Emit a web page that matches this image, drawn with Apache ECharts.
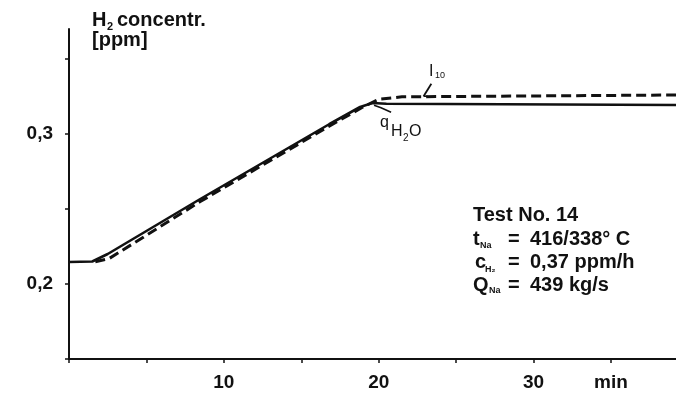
<!DOCTYPE html>
<html><head><meta charset="utf-8">
<script src="https://cdn.jsdelivr.net/npm/echarts@6/dist/echarts.min.js"></script>
<style>html,body{margin:0;padding:0;background:#fff}#c{width:676px;height:398px}</style>
</head><body><div id="c"></div>
<script>
// ---- data ----
const xTickLabels = {10: '10', 20: '20', 30: '30', 35: 'min'};
const yTickLabels = {20: '0,2', 30: '0,3'};
// q_H2O (solid)
const solidTime = [0, 1.5, 2.5, 8.45, 16.8, 18.8, 19.6, 20.5, 39.2];
const solidConc = [0.2147, 0.2150, 0.2200, 0.2565, 0.3065, 0.3180, 0.3207, 0.3202, 0.3193];
// I (dashed)
const dashTime = [1.7, 2.6, 8.45, 16.8, 18.9, 20.0, 21.5, 39.2];
const dashConc = [0.2148, 0.2170, 0.2548, 0.3052, 0.3175, 0.3232, 0.3248, 0.3260];

const FONT = '"Liberation Sans", Arial, sans-serif';
const chart = echarts.init(document.getElementById('c'), null, {renderer: 'canvas'});
const zip = (a, b) => a.map((v, i) => [v, b[i]]);

chart.setOption({
  animation: false,
  backgroundColor: '#fff',
  grid: {left: 69, right: 0, top: 29, bottom: 39},
  xAxis: {
    type: 'value', min: 0, max: 39.2, interval: 5,
    axisLine: {show: true, lineStyle: {color: '#111', width: 2}},
    axisTick: {show: true, length: 4, lineStyle: {color: '#111', width: 1.5}},
    splitLine: {show: false},
    axisLabel: {
      margin: 14, color: '#111', fontFamily: FONT, fontSize: 19, fontWeight: 'bold',
      showMaxLabel: false,
      formatter: v => xTickLabels[Math.round(v)] || ''
    }
  },
  yAxis: {
    type: 'value', min: 0.15, max: 0.37, interval: 0.05,
    axisLine: {show: true, lineStyle: {color: '#111', width: 2}},
    axisTick: {show: true, length: 4, lineStyle: {color: '#111', width: 1.5}},
    splitLine: {show: false},
    axisLabel: {
      margin: 16, color: '#111', fontFamily: FONT, fontSize: 19, fontWeight: 'bold',
      showMaxLabel: false,
      formatter: v => yTickLabels[Math.round(v * 100)] || ''
    }
  },
  series: [
    {type: 'line', data: zip(dashTime, dashConc), symbol: 'none', z: 3,
     lineStyle: {color: '#111', width: 3, type: [10, 5]}},
    {type: 'line', data: zip(solidTime, solidConc), symbol: 'none', z: 4,
     lineStyle: {color: '#111', width: 2.6}}
  ]
});

const P = (x, y) => chart.convertToPixel({gridIndex: 0}, [x, y]);
// text placed by baseline
const txt = (x, base, s, size, w) => ({
  type: 'text', x: x, y: base - Math.round(0.83 * size),
  style: {text: s, fill: '#111', font: (w || 'bold') + ' ' + size + 'px ' + FONT,
          align: 'left', verticalAlign: 'top'}
});
const line = (pts, w) => ({type: 'polyline', shape: {points: pts}, style: {stroke: '#111', lineWidth: w || 1.6, fill: null}});

const g = [];
// y-axis title
g.push(txt(92, 27, 'H', 20));
g.push(txt(107, 30, '2', 11));
g.push(txt(117, 27, 'concentr.', 20));
g.push(txt(92, 47, '[ppm]', 20));
// q_H2O label
g.push(txt(380, 128, 'q', 16, 'normal'));
g.push(txt(391, 137, 'H', 16, 'normal'));
g.push(txt(403, 141, '2', 10, 'normal'));
g.push(txt(409, 137, 'O', 16, 'normal'));
// I label
g.push(txt(429, 77, 'I', 16, 'normal'));
g.push(txt(435, 78, '10', 9, 'normal'));
// leaders (anchored to data coordinates)
const a1 = P(19.7, 0.3205), a2 = P(20.15, 0.3175), a3 = P(20.8, 0.3145);
g.push(line([[a1[0], a1[1] + 2], [a2[0], a2[1]], [a3[0], a3[1]]], 1.6));
const b1 = P(22.9, 0.3252), b2 = P(23.4, 0.3335);
g.push(line([b1, b2], 1.8));
g.push(line([b1, [b1[0] + 4, b1[1]]], 1.6));
// test block
const L = 473, E = 508, V = 530;
g.push(txt(L, 222, 'Test No. 14', 20));
g.push(txt(L, 246, 't', 20));
g.push(txt(L + 7, 248, 'Na', 9));
g.push(txt(E, 246, '=', 20));
g.push(txt(V, 246, '416/338° C', 20));
g.push(txt(L + 2, 269, 'c', 20));
g.push(txt(L + 12, 272, 'H₂', 9));
g.push(txt(E, 269, '=', 20));
g.push(txt(V, 269, '0,37 ppm/h', 20));
g.push(txt(L, 292, 'Q', 20));
g.push(txt(L + 16, 293, 'Na', 9));
g.push(txt(E, 292, '=', 20));
g.push(txt(V, 292, '439 kg/s', 20));
chart.setOption({graphic: g});
</script>
</body></html>
